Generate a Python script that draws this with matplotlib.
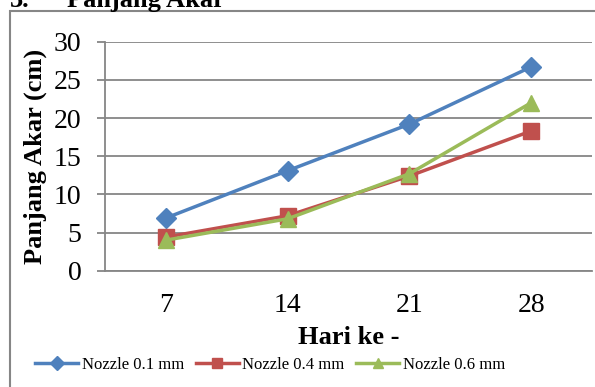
import matplotlib.pyplot as plt
from matplotlib.patches import Rectangle

days = ['7', '14', '21', '28']
nozzle_01 = [6.9, 13.1, 19.2, 26.7]
nozzle_04 = [4.4, 7.2, 12.4, 18.3]
nozzle_06 = [4.0, 6.8, 12.7, 22.0]
labels = ['Nozzle 0.1 mm', 'Nozzle 0.4 mm', 'Nozzle 0.6 mm']

plt.rcParams['font.family'] = ['Liberation Serif', 'DejaVu Serif']

W, H = 595, 387
fig = plt.figure(figsize=(W / 100, H / 100), dpi=100)

# chart border (partly outside the picture)
fig.patches.append(Rectangle((10 / W, -0.2), 1.2, 1 - 10.5 / H + 0.2,
                             transform=fig.transFigure, fill=False,
                             edgecolor='#868686', linewidth=1.5))
fig.text(10 / W, 1 - 7 / H, '3.', fontsize=19,
         fontweight='bold', va='baseline', ha='left')
fig.text(67 / W, 1 - 7 / H, 'Panjang Akar', fontsize=19,
         fontweight='bold', va='baseline', ha='left')

ax = fig.add_axes([105 / W, 1 - 270.7 / H, (592 - 105) / W, (270.7 - 41.7) / H])

x = list(range(len(days)))
ax.plot(x, nozzle_01, color='#4F81BD', lw=2.5, marker='D', ms=10.5, label=labels[0])
ax.plot(x, nozzle_04, color='#C0504D', lw=2.5, marker='s', ms=11, label=labels[1])
ax.plot(x, nozzle_06, color='#9BBB59', lw=2.5, marker='^', ms=12, label=labels[2])

ax.set_xlim(-0.5, 3.5)
ax.set_ylim(0, 30)
ax.set_yticks(range(0, 31, 5))
ax.set_xticks(x)
ax.set_xticklabels(days)
ax.yaxis.grid(True, color='#868686', lw=1.3)
ax.set_axisbelow(True)
for s in ['top', 'right']:
    ax.spines[s].set_visible(False)
ax.spines['left'].set_color('#868686')
ax.spines['bottom'].set_color('#868686')
ax.spines['left'].set_linewidth(1.3)
ax.spines['bottom'].set_linewidth(1.3)
ax.tick_params(axis='y', length=6, width=1.3, color='#868686', pad=11, labelsize=20)
ax.tick_params(axis='x', length=0, pad=16, labelsize=20)

ax.set_ylabel('Panjang Akar (cm)', fontsize=19, fontweight='bold', labelpad=5)
ax.set_xlabel('Hari ke -', fontsize=19, fontweight='bold', labelpad=6)

fig.legend(loc='center', bbox_to_anchor=(270 / W, 1 - 365 / H), ncol=3,
           frameon=False, fontsize=12, handlelength=2.6, handletextpad=0.2,
           columnspacing=0.7, markerscale=0.65)

fig.savefig('out.png', dpi=100)
